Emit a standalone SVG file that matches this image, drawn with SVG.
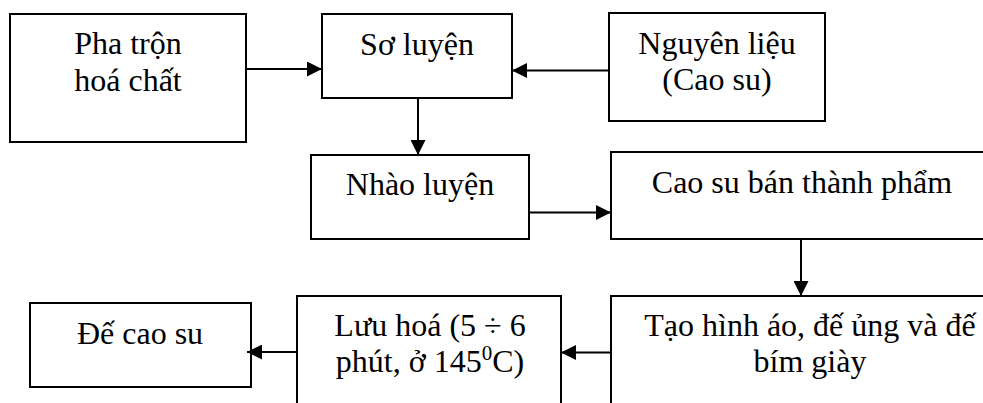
<svg xmlns="http://www.w3.org/2000/svg" width="983" height="403" viewBox="0 0 983 403">
<style>
.box{fill:#fff;stroke:#000;stroke-width:2}
.t{font-family:"Liberation Serif","Times New Roman",serif;font-size:32px;fill:#000;text-anchor:middle}
.c{stroke:#000;stroke-width:2;fill:none;marker-end:url(#ah)}
</style>
<defs>
<marker id="ah" markerUnits="userSpaceOnUse" markerWidth="15" markerHeight="15" refX="15" refY="7.5" orient="auto">
<path d="M0,0 L15,7.5 L0,15 z" fill="#000"/>
</marker>
</defs>
<rect width="983" height="403" fill="#fff"/>
<g id="n1"><rect class="box" x="10" y="14" width="236" height="128"/><text class="t" x="128" y="54">Pha trộn</text><text class="t" x="128" y="91">hoá chất</text></g>
<g id="n2"><rect class="box" x="322" y="14" width="190" height="84"/><text class="t" x="417" y="55">Sơ luyện</text></g>
<g id="n3"><rect class="box" x="609" y="13" width="216" height="108"/><text class="t" x="717" y="54">Nguyên liệu</text><text class="t" x="717" y="90">(Cao su)</text></g>
<g id="n4"><rect class="box" x="311" y="155" width="218" height="84"/><text class="t" x="420" y="195">Nhào luyện</text></g>
<g id="n5"><rect class="box" x="611" y="152" width="400" height="87"/><text class="t" x="802" y="193">Cao su bán thành phẩm</text></g>
<g id="n6"><rect class="box" x="611" y="296" width="400" height="150"/><text class="t" x="810" y="336">Tạo hình áo, đế ủng và đế</text><text class="t" x="810" y="372">bím giày</text></g>
<g id="n7"><rect class="box" x="297" y="296" width="264" height="150"/><text class="t" x="430" y="336">Lưu hoá (5 ÷ 6</text><text class="t" x="430" y="372">phút, ở 145<tspan font-size="21" dy="-12">0</tspan><tspan dy="12">C)</tspan></text></g>
<g id="n8"><rect class="box" x="30" y="303" width="221" height="84"/><text class="t" x="140" y="344">Đế cao su</text></g>
<g id="connectors">
<path class="c" d="M246,69 H322"/>
<path class="c" d="M609,70.5 H512"/>
<path class="c" d="M418,98 V155"/>
<path class="c" d="M529,212.5 H611"/>
<path class="c" d="M801,239 V296"/>
<path class="c" d="M611,352.5 H561"/>
<path class="c" d="M297,352 H247"/>
</g>
</svg>
